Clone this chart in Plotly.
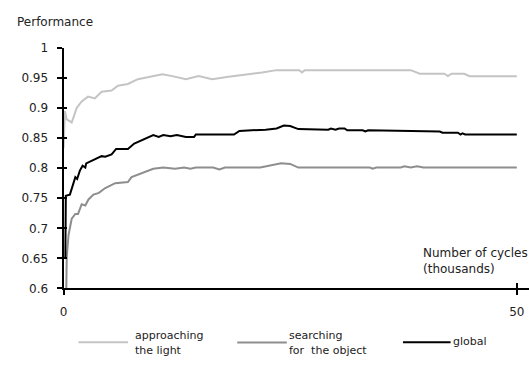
import plotly.graph_objects as go

W, H = 529, 365

# ---------------- data (x in thousands of cycles) ----------------
light_k = [0.0, 0.15, 0.35, 0.9, 1.45, 2.0, 2.7, 3.45, 4.2, 5.3, 6.0, 7.1, 8.2, 9.6,
           10.9, 12.0, 13.5, 14.9, 16.4, 18.2, 20.4, 21.9, 23.5, 26.0, 26.3, 26.6,
           38.3, 39.3, 42.0, 42.4, 42.8, 44.2, 44.8, 50.0]
light_v = [0.833, 0.895, 0.881, 0.876, 0.900, 0.911, 0.919, 0.916, 0.927, 0.929, 0.937,
           0.940, 0.948, 0.952, 0.956, 0.953, 0.948, 0.953, 0.948, 0.952, 0.956, 0.959,
           0.963, 0.963, 0.959, 0.963, 0.963, 0.957, 0.957, 0.953, 0.957, 0.957, 0.953,
           0.953]

search_k = [0.3, 0.35, 0.55, 0.9, 1.3, 1.6, 2.0, 2.4, 2.75, 3.3, 3.9, 4.6, 5.7, 7.1, 7.5,
            8.8, 9.9, 11.0, 12.3, 13.3, 14.0, 14.6, 16.5, 17.2, 17.8, 21.7, 22.3, 24.0,
            25.0, 25.9, 33.8, 34.1, 34.5, 37.2, 37.6, 38.3, 39.0, 39.7, 50.0]
search_v = [0.595, 0.652, 0.689, 0.716, 0.724, 0.724, 0.740, 0.738, 0.748, 0.756, 0.759,
            0.767, 0.775, 0.777, 0.785, 0.792, 0.799, 0.801, 0.799, 0.801, 0.799, 0.801,
            0.801, 0.798, 0.801, 0.801, 0.803, 0.808, 0.807, 0.801, 0.801, 0.799, 0.801,
            0.801, 0.803, 0.801, 0.803, 0.801, 0.801]

global_k = [0.2, 0.25, 0.7, 1.0, 1.3, 1.5, 1.8, 2.1, 2.4, 2.5, 2.9, 3.1, 3.5, 4.2, 4.6,
            5.3, 5.8, 7.1, 7.8, 8.9, 9.9, 10.5, 11.0, 11.8, 12.5, 13.5, 14.4, 14.6, 18.8,
            19.4, 21.9, 22.3, 23.5, 24.3, 25.0, 25.9, 29.2, 29.5, 30.0, 30.4, 31.0, 31.3,
            33.0, 33.3, 33.6, 37.9, 38.3, 41.5, 41.8, 43.5, 43.8, 44.0, 44.3, 50.0]
global_v = [0.652, 0.754, 0.756, 0.769, 0.785, 0.782, 0.796, 0.804, 0.801, 0.808, 0.811,
            0.812, 0.815, 0.820, 0.819, 0.823, 0.832, 0.832, 0.841, 0.848, 0.855, 0.852,
            0.855, 0.853, 0.855, 0.852, 0.852, 0.856, 0.856, 0.862, 0.863, 0.864, 0.866,
            0.871, 0.870, 0.865, 0.864, 0.866, 0.864, 0.866, 0.866, 0.863, 0.863, 0.861,
            0.863, 0.862, 0.861, 0.861, 0.859, 0.859, 0.856, 0.858, 0.856, 0.856]

series_names = ["approaching the light", "searching for the object", "global"]
legend_lines1 = ["approaching", "searching", "global"]
legend_lines2 = ["the light", "for  the object", ""]

y_ticks = [0.6, 0.65, 0.7, 0.75, 0.8, 0.85, 0.9, 0.95, 1.0]
y_labels = ["0.6", "0.65", "0.7", "0.75", "0.8", "0.85", "0.9", "0.95", "1"]
x_ticks = [0, 50]
x_labels = ["0", "50"]

# ---------------- style ----------------
FONT = "DejaVu Sans"
TXT = "#222222"
C_LIGHT = "#c4c4c4"
C_MID = "#8e8e8e"
C_BLACK = "#000000"
colors = [C_LIGHT, C_MID, C_BLACK]

fig = go.Figure()
for k, v, c, n in [(light_k, light_v, C_LIGHT, series_names[0]),
                   (search_k, search_v, C_MID, series_names[1]),
                   (global_k, global_v, C_BLACK, series_names[2])]:
    fig.add_trace(go.Scatter(x=k, y=v, mode="lines", name=n,
                             line=dict(color=c, width=2), showlegend=False))
# helper trace for the overlaid (inside-tick) axes
fig.add_trace(go.Scatter(x=[], y=[], xaxis="x2", yaxis="y2", showlegend=False,
                         hoverinfo="skip"))

x_left, x_right = 60, 529
y_top, y_bot = 42.5, 292.7
x_per_unit = (516.7 - 60) / 50.0
x_max = (x_right - x_left) / x_per_unit
xdom = [x_left / W, 1.0]
ydom = [1 - y_bot / H, 1 - y_top / H]

axis_common = dict(showgrid=False, zeroline=False, fixedrange=True)

fig.update_layout(
    width=W, height=H, autosize=False,
    margin=dict(l=0, r=0, t=0, b=0, pad=0),
    paper_bgcolor="white", plot_bgcolor="white",
    font=dict(family=FONT, size=12, color=TXT),
    xaxis=dict(domain=xdom, range=[0, x_max], showline=True, linecolor="black",
               linewidth=2, ticks="outside", ticklen=5, tickwidth=2, tickcolor="black",
               tickvals=x_ticks, ticktext=x_labels, ticklabelstandoff=6,
               tickfont=dict(family=FONT, size=12, color=TXT), anchor="y", **axis_common),
    yaxis=dict(domain=ydom, range=[0.6, 1.0], showline=True, linecolor="black",
               linewidth=2, ticks="outside", ticklen=5, tickwidth=2, tickcolor="black",
               tickvals=y_ticks, ticktext=y_labels, ticklabelstandoff=6,
               tickfont=dict(family=FONT, size=12, color=TXT), anchor="x", **axis_common),
    xaxis2=dict(overlaying="x", anchor="y", range=[0, x_max], ticks="inside", ticklen=5,
                tickwidth=2, tickcolor="black", tickvals=x_ticks, showticklabels=False,
                showline=False, **axis_common),
    yaxis2=dict(overlaying="y", anchor="x", side="left", range=[0.6, 1.0], ticks="inside",
                ticklen=3, tickwidth=2, tickcolor="black", tickvals=y_ticks,
                showticklabels=False, showline=False, **axis_common),
)


def ann(text, x, y, size=12, xanchor="left"):
    return dict(text=text, x=x / W, y=1 - y / H, xref="paper", yref="paper",
                xanchor=xanchor, yanchor="middle", showarrow=False, borderpad=0,
                font=dict(family=FONT, size=size, color=TXT))


annotations = [
    ann("Performance", 12, 15.7),
    ann("Number of cycles", 421.5, 255.5),
    ann("(thousands)", 421.5, 272.5),
]

# legend (drawn manually to match the original layout)
leg_line_x = [(75, 125), (235, 285), (402, 450)]
leg_line_y = [348.5, 349.0, 348.5]
leg_text_x = [130.5, 286, 451]
shapes = []
for i in range(3):
    x0, x1 = leg_line_x[i]
    shapes.append(dict(type="line", xref="paper", yref="paper", x0=x0 / W, x1=x1 / W,
                       y0=1 - leg_line_y[i] / H, y1=1 - leg_line_y[i] / H,
                       line=dict(color=colors[i], width=2)))
    if legend_lines2[i]:
        annotations.append(ann(legend_lines1[i], leg_text_x[i], 341.5, size=11))
        annotations.append(ann(legend_lines2[i], leg_text_x[i], 357.5, size=11))
    else:
        annotations.append(ann(legend_lines1[i], leg_text_x[i], 348.0, size=11))

fig.update_layout(annotations=annotations, shapes=shapes)

fig.write_html("out.html", config=dict(displayModeBar=False, staticPlot=True))
